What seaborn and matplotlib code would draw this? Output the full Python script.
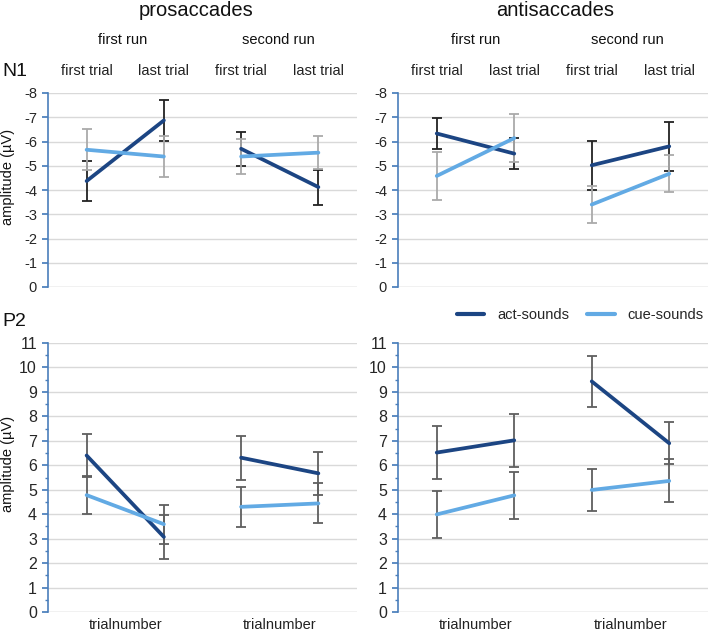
import matplotlib
matplotlib.use("Agg")
import matplotlib.pyplot as plt
import numpy as np
import pandas as pd
import seaborn as sns
from matplotlib.ticker import MultipleLocator

# trial positions: first run (first, last), second run (first, last)
trials = ["first trial", "last trial", "first trial", "last trial"]
runs = ["first run", "first run", "second run", "second run"]
groups = ["act-sounds", "cue-sounds"]

# N1 amplitudes (negative), prosaccades / antisaccades
n1_pro_act = [-4.37, -6.87, -5.70, -4.12]
n1_pro_act_err = [0.82, 0.83, 0.71, 0.72]
n1_pro_cue = [-5.66, -5.38, -5.38, -5.54]
n1_pro_cue_err = [0.84, 0.85, 0.72, 0.69]

n1_anti_act = [-6.33, -5.50, -5.02, -5.80]
n1_anti_act_err = [0.64, 0.64, 1.01, 1.02]
n1_anti_cue = [-4.58, -6.14, -3.40, -4.67]
n1_anti_cue_err = [1.00, 1.00, 0.75, 0.76]

# P2 amplitudes
p2_pro_act = [6.40, 3.07, 6.31, 5.67]
p2_pro_act_err = [0.88, 0.90, 0.90, 0.89]
p2_pro_cue = [4.78, 3.59, 4.30, 4.44]
p2_pro_cue_err = [0.77, 0.79, 0.81, 0.82]

p2_anti_act = [6.52, 7.02, 9.43, 6.90]
p2_anti_act_err = [1.08, 1.09, 1.03, 0.86]
p2_anti_cue = [3.99, 4.77, 4.99, 5.36]
p2_anti_cue_err = [0.97, 0.97, 0.87, 0.88]

DARK = "#1c4583"
LIGHT = "#62aae4"
SPINE = "#4a7ebb"
GRID = "#d9d9d9"

sns.set_theme(style="white")
plt.rcParams["font.family"] = ["Liberation Sans", "DejaVu Sans"]
plt.rcParams["axes.unicode_minus"] = False


def make_df(act, act_err, cue, cue_err):
    rows = []
    for g, vals, errs in [(groups[0], act, act_err), (groups[1], cue, cue_err)]:
        for i, (v, e) in enumerate(zip(vals, errs)):
            rows.append({"pos": i, "run": runs[i], "trial": trials[i],
                         "group": g, "amp": v, "err": e})
    return pd.DataFrame(rows)


def draw_panel(ax, df, top, err_colors, tick_size):
    # gridlines
    ax.set_axisbelow(True)
    ax.yaxis.grid(True, color=GRID, linewidth=1)
    ax.xaxis.grid(False)

    # error bars first, lines on top
    for g, c in zip(groups, err_colors):
        d = df[df.group == g]
        ax.errorbar(d.pos, d.amp, yerr=d.err, fmt="none", ecolor=c,
                    elinewidth=1.3, capsize=3.5, capthick=1.3, zorder=2)

    sns.lineplot(data=df, x="pos", y="amp", hue="group", units="run",
                 estimator=None, palette=[DARK, LIGHT], linewidth=2.7,
                 legend=False, ax=ax, zorder=3)

    ax.set_xlim(-0.5, 3.5)
    for s in ["top", "right", "bottom"]:
        ax.spines[s].set_visible(False)
    ax.spines["left"].set_color(SPINE)
    ax.spines["left"].set_linewidth(1.2)
    ax.tick_params(axis="y", which="both", left=True, direction="out",
                   color=SPINE, labelsize=tick_size, pad=4)
    ax.tick_params(axis="y", which="major", length=4)
    ax.set_xlabel("")
    ax.set_ylabel("")

    if top:
        ax.set_ylim(0, -8)
        ax.yaxis.set_major_locator(MultipleLocator(1))
        ax.xaxis.tick_top()
        ax.set_xticks(range(4))
        ax.set_xticklabels(trials, fontsize=10.5, color="#222222")
        ax.tick_params(axis="x", length=0, pad=11)
    else:
        ax.set_ylim(0, 11)
        ax.yaxis.set_major_locator(MultipleLocator(1))
        ax.yaxis.set_minor_locator(MultipleLocator(0.5))
        ax.tick_params(axis="y", which="minor", length=2.5)
        ax.set_xticks([0.5, 2.5])
        ax.set_xticklabels(["trialnumber", "trialnumber"], fontsize=10.5,
                           color="#222222")
        ax.tick_params(axis="x", length=0, pad=4)
    ax.axhline(0, color=GRID, linewidth=1, zorder=1)


fig = plt.figure(figsize=(7.09, 6.36), dpi=100)
W, H = 709.0, 636.0


def add_axes(x0, y0, x1, y1):
    return fig.add_axes([x0 / W, 1 - y1 / H, (x1 - x0) / W, (y1 - y0) / H])


ax_n1_pro = add_axes(48, 93, 357, 287)
ax_n1_anti = add_axes(398, 93, 708, 287)
ax_p2_pro = add_axes(48, 343, 357, 612)
ax_p2_anti = add_axes(398, 343, 708, 612)

top_err = ["#222222", "#aaaaaa"]
bot_err = ["#5f5f5f", "#5f5f5f"]

draw_panel(ax_n1_pro, make_df(n1_pro_act, n1_pro_act_err, n1_pro_cue, n1_pro_cue_err),
           True, top_err, 10.5)
draw_panel(ax_n1_anti, make_df(n1_anti_act, n1_anti_act_err, n1_anti_cue, n1_anti_cue_err),
           True, top_err, 10.5)
draw_panel(ax_p2_pro, make_df(p2_pro_act, p2_pro_act_err, p2_pro_cue, p2_pro_cue_err),
           False, bot_err, 11.5)
draw_panel(ax_p2_anti, make_df(p2_anti_act, p2_anti_act_err, p2_anti_cue, p2_anti_cue_err),
           False, bot_err, 11.5)

# headers
txt = dict(ha="center", va="center", color="#111111")
fig.text(196 / W, 1 - 11 / H, "prosaccades", fontsize=14.5, **txt)
fig.text(555 / W, 1 - 11 / H, "antisaccades", fontsize=14.5, **txt)
for x, s in [(123, "first run"), (278, "second run"), (476, "first run"), (627, "second run")]:
    fig.text(x / W, 1 - 40 / H, s, fontsize=10.5, **txt)
fig.text(2 / W, 1 - 72 / H, "N1", fontsize=14, ha="left", va="center", color="#111111")
fig.text(2 / W, 1 - 322 / H, "P2", fontsize=14, ha="left", va="center", color="#111111")
fig.text(8 / W, 1 - 177 / H, "amplitude (µV)", fontsize=10.5, rotation=90, **txt)
fig.text(8 / W, 1 - 464 / H, "amplitude (µV)", fontsize=10.5, rotation=90, **txt)

# legend
handles = [plt.Line2D([], [], color=DARK, linewidth=3),
           plt.Line2D([], [], color=LIGHT, linewidth=3)]
fig.legend(handles, groups, loc="center right", bbox_to_anchor=(704 / W, 1 - 315 / H),
           ncol=2, frameon=False, fontsize=10.5, handlelength=1.9,
           handletextpad=0.9, columnspacing=1.2, borderaxespad=0, borderpad=0)

fig.savefig("out.png", dpi=100)
